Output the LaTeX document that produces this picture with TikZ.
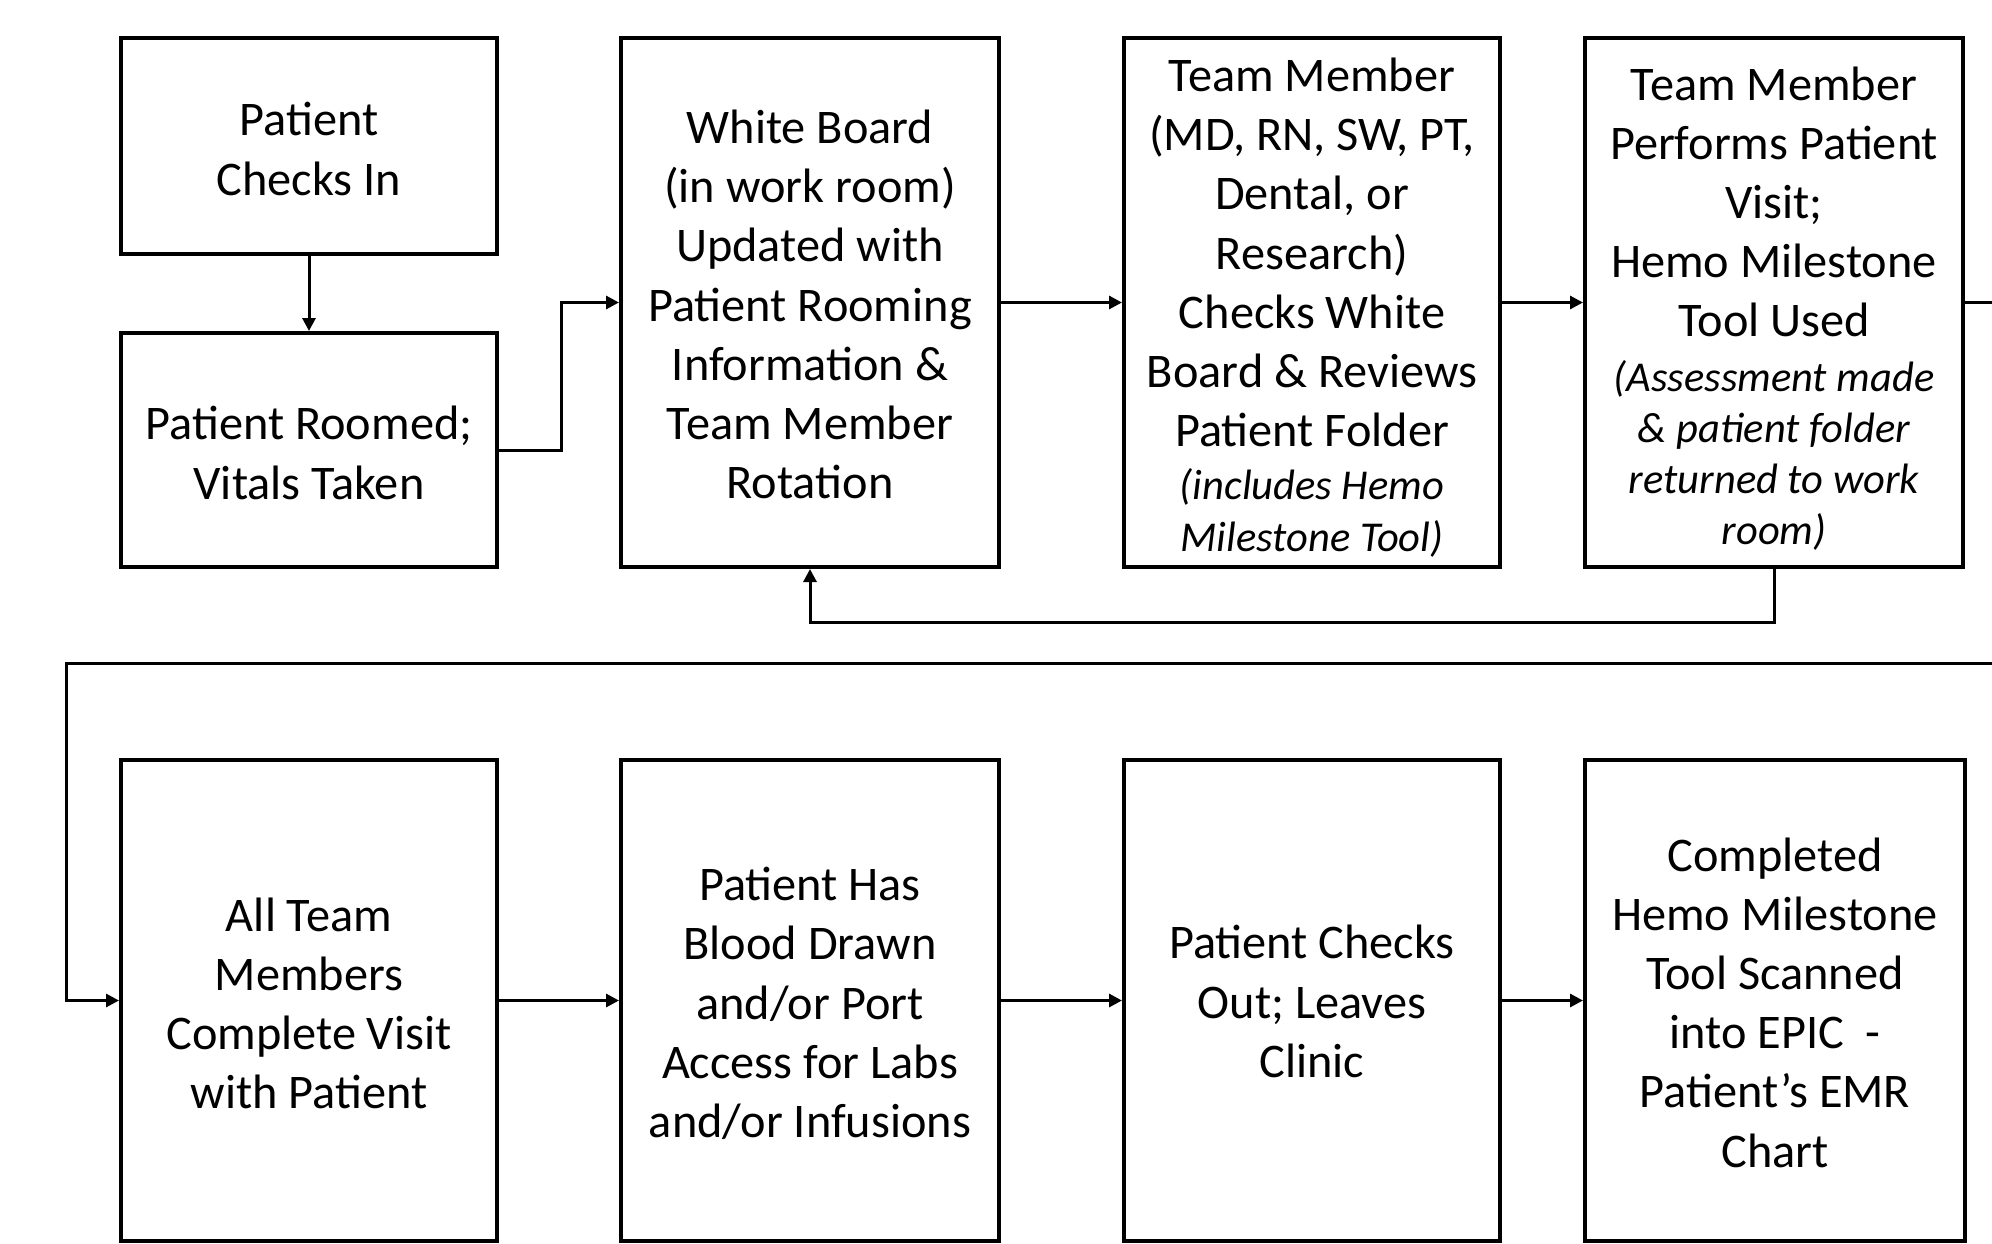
\documentclass[tikz,border=0pt]{standalone}
\usepackage{fontspec}
\setmainfont{Carlito}
\usetikzlibrary{arrows.meta}
\begin{document}
\begin{tikzpicture}[x=1pt,y=-1pt,
  frame/.style={draw=black, line width=4pt, fill=white, inner sep=0pt},
  txt/.style={align=center, inner sep=0pt, font=\fontsize{48.3}{59.2}\selectfont},
  flow/.style={line width=3pt, -{Triangle[length=13pt,width=13pt]}}]
\useasboundingbox (0,0) rectangle (1992,1244);
\clip (0,0) rectangle (1992,1244);
\newcommand\smallit{\fontsize{42.5}{51}\selectfont\itshape}

% upper row: frames
\node[frame, minimum width=376pt, minimum height=216pt] (b1) at (309,146) {};
\node[frame, minimum width=376pt, minimum height=234pt] (b1b) at (309,450) {};
\node[frame, minimum width=378pt, minimum height=529pt] (b2) at (810,302.5) {};
\node[frame, minimum width=376pt, minimum height=529pt] (b3) at (1312,302.5) {};
\node[frame, minimum width=378pt, minimum height=529pt] (b4) at (1774,302.5) {};

% lower row: frames
\node[frame, minimum width=376pt, minimum height=481pt] (b5) at (309,1000.5) {};
\node[frame, minimum width=378pt, minimum height=481pt] (b6) at (810,1000.5) {};
\node[frame, minimum width=376pt, minimum height=481pt] (b7) at (1312,1000.5) {};
\node[frame, minimum width=380pt, minimum height=481pt] (b8) at (1775,1000.5) {};

% step texts
\node[txt] (t1) at ([yshift=-3pt]b1.center) {Patient\\Checks In};
\node[txt] (t1b) at ([yshift=-3pt]b1b.center) {Patient Roomed;\\Vitals Taken};
\node[txt] (t2) at ([yshift=-2pt]b2.center)
  {White Board\\(in work room)\\Updated with\\Patient Rooming\\Information \&\\Team Member\\Rotation};
\node[txt] (t3) at ([yshift=-5pt]b3.center)
  {Team Member\\(MD, RN, SW, PT,\\Dental, or\\Research)\\Checks White\\Board \& Reviews\\Patient Folder\\[-6pt]
   {\smallit (includes Hemo}\\[-8pt]{\smallit Milestone Tool)}};
\node[txt] (t4) at ([yshift=-6pt]b4.center)
  {Team Member\\Performs Patient\\Visit;\\Hemo Milestone\\Tool Used\\[-5pt]
   {\smallit (Assessment made}\\[-8pt]{\smallit \& patient folder}\\[-8pt]{\smallit returned to work}\\[-8pt]{\smallit room)}};
\node[txt] (t5) at ([yshift=-3pt]b5.center) {All Team\\Members\\Complete Visit\\with Patient};
\node[txt] (t6) at ([yshift=-3pt]b6.center)
  {Patient Has\\Blood Drawn\\and/or Port\\Access for Labs\\and/or Infusions};
\node[txt] (t7) at ([yshift=-1pt]b7.center) {Patient Checks\\Out; Leaves\\Clinic};
\node[txt] (t8) at ([yshift=-2pt]b8.center)
  {Completed\\Hemo Milestone\\Tool Scanned\\into EPIC \ -\\Patient’s EMR\\Chart};

% turning points of the long return line
\coordinate (rt) at (2010,663);
\coordinate (lt) at (66,663);

% connectors
\draw[flow] (b1) -- (b1b);
\draw[flow] (b1b.east) -- ++(62,0) |- (b2.west);
\draw[flow] (b2) -- (b3);
\draw[flow] (b3) -- (b4);
\draw[flow] (b4.south) -- ++(0,53) -| (b2.south);
\draw[flow] (b4.east) -| (rt) -- (lt) |- (b5.west);
\draw[flow] (b5) -- (b6);
\draw[flow] (b6) -- (b7);
\draw[flow] (b7) -- (b8);
\end{tikzpicture}
\end{document}
